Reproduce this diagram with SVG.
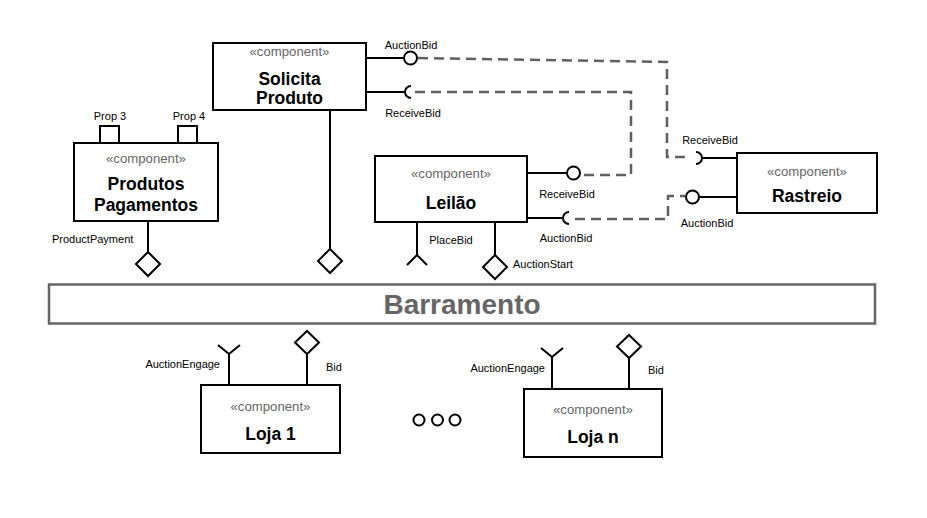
<svg xmlns="http://www.w3.org/2000/svg" width="927" height="518" viewBox="0 0 927 518">
<style>
.box{fill:#fff;stroke:#000;stroke-width:2}
.ln{fill:none;stroke:#000;stroke-width:2}
.dash{fill:none;stroke:#5f5f5f;stroke-width:2.5;stroke-dasharray:10 6}
.st{font-family:"Liberation Sans",Arial,sans-serif;font-size:13.2px;fill:#666;text-anchor:middle}
.nm{font-family:"Liberation Sans",Arial,sans-serif;font-size:17.5px;font-weight:bold;fill:#000;text-anchor:middle}
.lb{font-family:"Liberation Sans",Arial,sans-serif;font-size:11px;fill:#000}
.c{text-anchor:middle}
.e{text-anchor:end}
</style>
<rect width="927" height="518" fill="#fff"/>
<g id="connectors">
<path class="dash" d="M418,58 L667,62 L667,157 L690,157"/>
<path class="dash" d="M415,92 L631,92 L631,175 L581,175"/>
<path class="dash" d="M575,219 L668,219 L668,196 L685,196"/>
</g>
<g id="solicita">
<rect class="box" x="213" y="43" width="153" height="67"/>
<text class="st" x="289.5" y="56">«component»</text>
<text class="nm" x="289.5" y="85">Solicita</text>
<text class="nm" x="289.5" y="104">Produto</text>
<path class="ln" d="M366,58 L404,58"/>
<circle class="ln" cx="410.5" cy="58" r="6.5" fill="#fff"/>
<text class="lb c" x="411" y="49">AuctionBid</text>
<path class="ln" d="M366,92 L404,92"/>
<path class="ln" d="M411,86 A6,6 0 0 0 411,98"/>
<text class="lb c" x="413" y="117">ReceiveBid</text>
<path class="ln" d="M330,110 L330,249"/>
<path class="ln" d="M330,249 L342,261 L330,273 L318,261 Z" fill="#fff"/>
</g>
<g id="produtos">
<rect class="box" x="74" y="143" width="144" height="78"/>
<rect class="box" x="100" y="126" width="19" height="17"/>
<rect class="box" x="178" y="126" width="19" height="17"/>
<text class="lb c" x="110" y="120">Prop 3</text>
<text class="lb c" x="189" y="120">Prop 4</text>
<text class="st" x="146" y="163">«component»</text>
<text class="nm" x="146" y="190">Produtos</text>
<text class="nm" x="146" y="211">Pagamentos</text>
<path class="ln" d="M148,221 L148,252"/>
<path class="ln" d="M148,252 L160,264 L148,276 L136,264 Z" fill="#fff"/>
<text class="lb" x="52" y="243">ProductPayment</text>
</g>
<g id="leilao">
<rect class="box" x="375" y="156" width="152" height="66"/>
<text class="st" x="451" y="178">«component»</text>
<text class="nm" x="451" y="209">Leilão</text>
<path class="ln" d="M527,173 L567,173"/>
<circle class="ln" cx="573.5" cy="173" r="6.5" fill="#fff"/>
<text class="lb c" x="567" y="198">ReceiveBid</text>
<path class="ln" d="M527,218 L562,218"/>
<path class="ln" d="M569,212 A6,6 0 0 0 569,224"/>
<text class="lb c" x="566" y="242">AuctionBid</text>
<path class="ln" d="M417,222 L417,255 M407,265 L417,255 L427,265"/>
<text class="lb c" x="451" y="244">PlaceBid</text>
<path class="ln" d="M495,222 L495,255"/>
<path class="ln" d="M495,255 L507,267 L495,279 L483,267 Z" fill="#fff"/>
<text class="lb" x="513" y="268">AuctionStart</text>
</g>
<g id="rastreio">
<rect class="box" x="737" y="153" width="140" height="60"/>
<text class="st" x="807" y="176">«component»</text>
<text class="nm" x="807" y="202">Rastreio</text>
<path class="ln" d="M737,158 L702,158"/>
<path class="ln" d="M696,152 A6,6 0 0 1 696,164"/>
<text class="lb c" x="710" y="144">ReceiveBid</text>
<path class="ln" d="M737,197 L699,197"/>
<circle class="ln" cx="692.5" cy="197" r="6.5" fill="#fff"/>
<text class="lb c" x="707" y="227">AuctionBid</text>
</g>
<g id="barramento">
<rect x="49" y="284.5" width="826" height="39" fill="#fff" stroke="#666" stroke-width="2.5"/>
<text x="462" y="314" font-family="'Liberation Sans',Arial,sans-serif" font-size="28px" font-weight="bold" fill="#666" text-anchor="middle">Barramento</text>
</g>
<g id="loja1">
<rect class="box" x="201" y="385" width="139" height="68"/>
<text class="st" x="270.5" y="411">«component»</text>
<text class="nm" x="270.5" y="440">Loja 1</text>
<path class="ln" d="M229,385 L229,354 M218,345 L229,354 L240,345"/>
<text class="lb e" x="220" y="368">AuctionEngage</text>
<path class="ln" d="M307,385 L307,354"/>
<path class="ln" d="M307,331 L319,342.5 L307,354 L295,342.5 Z" fill="#fff"/>
<text class="lb" x="326" y="371">Bid</text>
</g>
<g id="lojan">
<rect class="box" x="524" y="389" width="138" height="68"/>
<text class="st" x="593" y="414">«component»</text>
<text class="nm" x="593" y="443">Loja n</text>
<path class="ln" d="M552,389 L552,357 M541,348 L552,357 L563,348"/>
<text class="lb e" x="545" y="372">AuctionEngage</text>
<path class="ln" d="M629,389 L629,358"/>
<path class="ln" d="M629,335 L641,346.5 L629,358 L617,346.5 Z" fill="#fff"/>
<text class="lb" x="648" y="374">Bid</text>
</g>
<g id="ellipsis">
<circle class="ln" cx="419" cy="420" r="5.5" stroke-width="2.5"/>
<circle class="ln" cx="437.5" cy="420" r="5.5" stroke-width="2.5"/>
<circle class="ln" cx="455" cy="420" r="5.5" stroke-width="2.5"/>
</g>
</svg>
